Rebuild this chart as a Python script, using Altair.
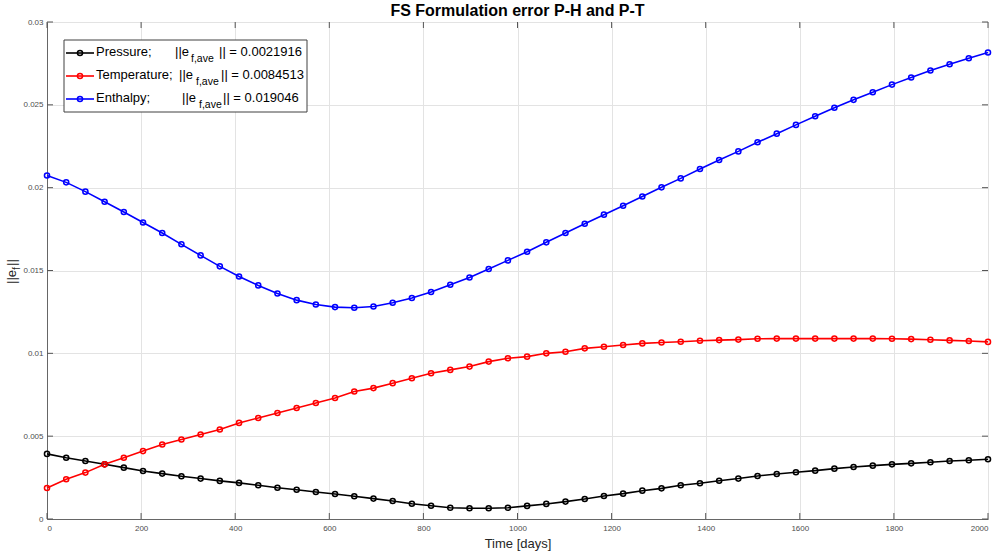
import altair as alt
import pandas as pd

# ---------------- data ----------------
time_days = [0.0, 40.8, 81.6, 122.4, 163.3, 204.1, 244.9, 285.7, 326.5, 367.3,
             408.2, 449.0, 489.8, 530.6, 571.4, 612.2, 653.1, 693.9, 734.7, 775.5,
             816.3, 857.1, 898.0, 938.8, 979.6, 1020.4, 1061.2, 1102.0, 1142.9, 1183.7,
             1224.5, 1265.3, 1306.1, 1346.9, 1387.8, 1428.6, 1469.4, 1510.2, 1551.0, 1591.8,
             1632.7, 1673.5, 1714.3, 1755.1, 1795.9, 1836.7, 1877.6, 1918.4, 1959.2, 2000.0]

pressure = [0.00393, 0.0037, 0.0035, 0.0033, 0.0031, 0.0029, 0.00274, 0.00258, 0.00244, 0.0023,
            0.00218, 0.00204, 0.00189, 0.00177, 0.00163, 0.00151, 0.00137, 0.00123, 0.00109, 0.00092,
            0.0008, 0.00068, 0.00065, 0.00065, 0.00068, 0.00079, 0.00091, 0.00105, 0.00121, 0.00139,
            0.00153, 0.00171, 0.00185, 0.00204, 0.00216, 0.00231, 0.00244, 0.0026, 0.00272, 0.00282,
            0.00292, 0.00304, 0.00314, 0.00322, 0.0033, 0.00336, 0.00343, 0.0035, 0.00355, 0.00361]

temperature = [0.00187, 0.0024, 0.0028, 0.0033, 0.0037, 0.0041, 0.0045, 0.0048, 0.0051, 0.0054,
               0.0058, 0.0061, 0.0064, 0.0067, 0.0070, 0.0073, 0.0077, 0.0079, 0.0082, 0.0085,
               0.0088, 0.0090, 0.0092, 0.0095, 0.0097, 0.0098, 0.0100, 0.0101, 0.0103, 0.0104,
               0.0105, 0.0106, 0.01065, 0.0107, 0.01076, 0.0108, 0.01083, 0.01088, 0.01089, 0.01089,
               0.01089, 0.01089, 0.01089, 0.01089, 0.01088, 0.01086, 0.01082, 0.01078, 0.01074, 0.01069]

enthalpy = [0.02073, 0.02032, 0.01976, 0.01915, 0.01853, 0.0179, 0.01726, 0.01658, 0.01591, 0.01525,
            0.01464, 0.0141, 0.01361, 0.01321, 0.01295, 0.01279, 0.01275, 0.01283, 0.01305, 0.01334,
            0.0137, 0.01414, 0.01458, 0.01509, 0.01561, 0.01613, 0.0167, 0.01726, 0.01782, 0.01837,
            0.01891, 0.01947, 0.02002, 0.02056, 0.02113, 0.02167, 0.02219, 0.02274, 0.02326, 0.02379,
            0.02431, 0.02482, 0.0253, 0.02576, 0.02622, 0.02665, 0.02707, 0.02745, 0.02781, 0.02816]

series_names = ["Pressure", "Temperature", "Enthalpy"]
series_colors = ["#000000", "#ff0000", "#0000ff"]
legend_labels = ["Pressure;", "Temperature;", "Enthalpy;"]
legend_norms = ["|| = 0.0021916", "|| = 0.0084513", "|| = 0.019046"]

x_ticks = [0, 200, 400, 600, 800, 1000, 1200, 1400, 1600, 1800, 2000]
y_ticks = [0, 0.005, 0.01, 0.015, 0.02, 0.025, 0.03]

title_text = "FS Formulation error P-H and P-T"
x_title = "Time [days]"

# ---------------- build ----------------
rows = []
for name, vals in zip(series_names, [pressure, temperature, enthalpy]):
    for t, v in zip(time_days, vals):
        rows.append({"t": t, "v": v, "s": name})
df = pd.DataFrame(rows)

FONT = "Liberation Sans"
W, H = 941, 497
OX, OY = 47, 22  # page offset of plot area

xs = alt.Scale(domain=[0, 2000], nice=False, zero=False)
ys = alt.Scale(domain=[0, 0.03], nice=False, zero=False)
cs = alt.Scale(domain=series_names, range=series_colors)

x_axis = alt.Axis(values=x_ticks, title=x_title, format="d", labelFontSize=8,
                  labelColor="#4d4d4d", labelPadding=5, tickSize=0, domainColor="#666666",
                  gridColor="#e3e3e3", titleFontSize=13, titleFontWeight="normal",
                  titleColor="#262626", titlePadding=5, labelFont=FONT, titleFont=FONT)
y_axis = alt.Axis(values=y_ticks, title="", format="~g", labelFontSize=8,
                  labelColor="#4d4d4d", labelPadding=4, tickSize=0, domainColor="#666666",
                  gridColor="#e3e3e3", labelFont=FONT)

base = alt.Chart(df).encode(
    x=alt.X("t:Q", scale=xs, axis=x_axis),
    y=alt.Y("v:Q", scale=ys, axis=y_axis),
    color=alt.Color("s:N", scale=cs, legend=None),
    order=alt.Order("t:Q"),
)
lines = base.mark_line(strokeWidth=1.6)
pts = base.mark_point(filled=False, size=26, strokeWidth=1.5, opacity=1)

ytick_df = pd.DataFrame({"v": y_ticks})
xtick_df = pd.DataFrame({"t": x_ticks})
tick_color = "#555555"
yt_left = alt.Chart(ytick_df).mark_rule(color=tick_color).encode(
    y=alt.Y("v:Q", scale=ys, axis=y_axis), x=alt.value(0), x2=alt.value(6))
yt_right = alt.Chart(ytick_df).mark_rule(color=tick_color).encode(
    y=alt.Y("v:Q", scale=ys, axis=y_axis), x=alt.value(W - 6), x2=alt.value(W))
xt_bot = alt.Chart(xtick_df).mark_rule(color=tick_color).encode(
    x=alt.X("t:Q", scale=xs, axis=x_axis), y=alt.value(H - 6), y2=alt.value(H))
xt_top = alt.Chart(xtick_df).mark_rule(color=tick_color).encode(
    x=alt.X("t:Q", scale=xs, axis=x_axis), y=alt.value(0), y2=alt.value(6))

one = alt.Data(values=[{"k": 0}])


def txt(s, x, y, size=13, angle=0, align="left", baseline="middle", weight="normal", color="#000000"):
    kw = dict(fontSize=size, font=FONT, align=align, baseline=baseline,
              fontWeight=weight, color=color)
    if angle:
        kw["angle"] = angle
    return alt.Chart(one).mark_text(**kw).encode(
        x=alt.value(x), y=alt.value(y), text=alt.value(s))


layers = [yt_left, yt_right, xt_bot, xt_top, lines, pts]

# legend box
layers.append(alt.Chart(one).mark_rect(fill="white", stroke="#404040", strokeWidth=1).encode(
    x=alt.value(64 - OX), x2=alt.value(307 - OX), y=alt.value(40 - OY), y2=alt.value(112 - OY)))

row_y = [53 - OY, 76 - OY, 99 - OY]
e_x = [175, 179, 182]
sub_x = [191, 196, 199]
rest_x = [219, 221, 223]
for i in range(3):
    yy = row_y[i]
    col = series_colors[i]
    layers.append(alt.Chart(one).mark_rule(color=col, strokeWidth=1.6).encode(
        x=alt.value(66 - OX), x2=alt.value(94 - OX), y=alt.value(yy)))
    layers.append(alt.Chart(one).mark_point(filled=False, size=26, strokeWidth=1.5, color=col,
                                            opacity=1).encode(
        x=alt.value(80 - OX), y=alt.value(yy)))
    layers.append(txt(legend_labels[i], 96 - OX, yy - 1))
    layers.append(txt("||e", e_x[i] - OX, yy - 1))
    layers.append(txt("f,ave", sub_x[i] - OX, yy + 6, size=10.5))
    layers.append(txt(legend_norms[i], rest_x[i] - OX, yy - 1))

# y axis title ||e_f|| (rotated)
ty_x = 12 - OX
ty_y = 284 - OY
layers.append(txt("||e", ty_x, ty_y, size=13, angle=270, color="#262626"))
layers.append(txt("f", ty_x + 5, ty_y - 14, size=10, angle=270, color="#262626"))
layers.append(txt("||", ty_x, ty_y - 18, size=13, angle=270, color="#262626"))

# chart title
layers.append(txt(title_text, W / 2, 11 - OY, size=16, align="center", weight="bold"))

chart = alt.layer(*layers).properties(
    width=W, height=H,
    autosize=alt.AutoSizeParams(type="none"),
    padding={"left": OX, "top": OY, "right": 995 - OX - W, "bottom": 555 - OY - H},
).configure_view(stroke="#666666", strokeWidth=1).configure(background="white")

chart.save("out.html", embed_options={"renderer": "svg", "actions": False})
